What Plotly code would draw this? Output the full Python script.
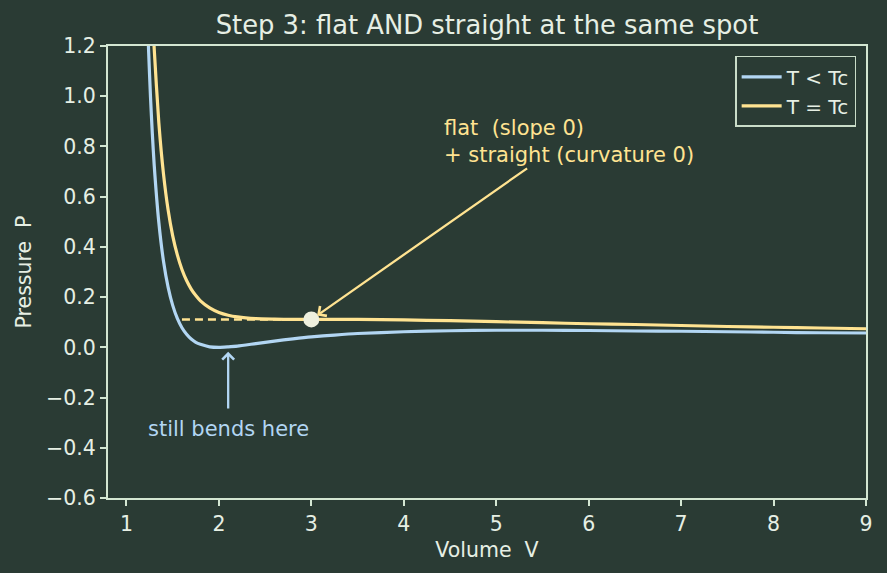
import plotly.graph_objects as go

# ---- data ----
volume = [1.20, 1.22, 1.24, 1.26, 1.28, 1.30, 1.35, 1.40, 1.45, 1.50, 1.55, 1.60, 1.65, 1.70, 1.75,
          1.80, 1.90, 2.00, 2.10, 2.20, 2.40, 2.60, 2.80, 3.00, 3.25, 3.50, 4.00, 4.50, 5.00, 5.50,
          6.00, 6.50, 7.00, 7.50, 8.00, 8.50, 9.00]
p_below = [1.667, 1.394, 1.174, 0.995, 0.848, 0.725, 0.497, 0.344, 0.240, 0.167, 0.115, 0.078, 0.052,
           0.033, 0.020, 0.012, 0.002, 0.000, 0.002, 0.005, 0.015, 0.025, 0.034, 0.042, 0.049, 0.055,
           0.062, 0.066, 0.068, 0.068, 0.067, 0.065, 0.064, 0.062, 0.060, 0.058, 0.057]
p_crit = [2.361, 2.025, 1.753, 1.529, 1.344, 1.188, 0.894, 0.692, 0.548, 0.444, 0.368, 0.310, 0.266,
          0.232, 0.206, 0.185, 0.157, 0.139, 0.128, 0.121, 0.114, 0.112, 0.111, 0.111, 0.111, 0.111,
          0.109, 0.106, 0.102, 0.098, 0.094, 0.091, 0.087, 0.083, 0.080, 0.077, 0.074]
series_names = ["T < Tc", "T = Tc"]
critical_v = [3.0]
critical_p = [0.111]
guide_v = [1.6, 3.0]
guide_p = [0.111, 0.111]
x_ticks = [1, 2, 3, 4, 5, 6, 7, 8, 9]
y_ticks = [-0.6, -0.4, -0.2, 0.0, 0.2, 0.4, 0.6, 0.8, 1.0, 1.2]

# ---- style ----
BG = "#2a3b34"
FG = "#e6efe4"
SPINE = "#d3e6d2"
BLUE = "#b2d6f3"
YELLOW = "#ffe391"
FONT = "DejaVu Sans"

fig = go.Figure()
fig.add_trace(go.Scatter(x=volume, y=p_below, mode="lines", name=series_names[0],
                         line=dict(color=BLUE, width=3.2, shape="spline", smoothing=0.6)))
fig.add_trace(go.Scatter(x=volume, y=p_crit, mode="lines", name=series_names[1],
                         line=dict(color=YELLOW, width=3.2, shape="spline", smoothing=0.6)))
fig.add_trace(go.Scatter(x=guide_v, y=guide_p, mode="lines", showlegend=False,
                         line=dict(color=YELLOW, width=2.5, dash="8px,5px")))
fig.add_trace(go.Scatter(x=critical_v, y=critical_p, mode="markers", showlegend=False,
                         marker=dict(color="#eef0de", size=16, line=dict(width=0))))

# arrows
fig.add_annotation(x=3.0, y=0.111, ax=5.35, ay=0.717, xref="x", yref="y", axref="x", ayref="y",
                   text="", showarrow=True, arrowhead=4, arrowsize=1.0, arrowwidth=2.3,
                   arrowcolor=YELLOW, standoff=7)
fig.add_annotation(x=4.41, y=0.82, xref="x", yref="y", xanchor="left", yanchor="middle",
                   align="left", showarrow=False,
                   text="flat \u00a0(slope 0)<br>+ straight (curvature 0)",
                   font=dict(family=FONT, size=21, color=YELLOW))
fig.add_annotation(x=2.1, y=-0.01, ax=2.1, ay=-0.25, xref="x", yref="y", axref="x", ayref="y",
                   text="", showarrow=True, arrowhead=4, arrowsize=1.0, arrowwidth=2.3,
                   arrowcolor=BLUE, standoff=2)
fig.add_annotation(x=2.1, y=-0.327, xref="x", yref="y", xanchor="center", yanchor="middle",
                   showarrow=False, text="still bends here",
                   font=dict(family=FONT, size=21, color=BLUE))

axis_common = dict(showline=True, linecolor=SPINE, linewidth=2, mirror=True,
                   ticks="outside", ticklen=6, tickwidth=2, tickcolor=SPINE,
                   showgrid=False, zeroline=False,
                   tickfont=dict(family=FONT, size=20.5, color=FG))

fig.update_layout(
    width=887, height=573,
    paper_bgcolor=BG, plot_bgcolor=BG,
    margin=dict(l=108, r=21, t=46, b=75),
    font=dict(family=FONT, color=FG),
    title=dict(text="Step 3: flat AND straight at the same spot", x=0.549, xanchor="center",
               y=0.956, yanchor="middle", font=dict(family=FONT, size=25.8, color=FG)),
    xaxis=dict(range=[0.8, 9], tickvals=x_ticks,
               title=dict(text="Volume \u00a0V", font=dict(family=FONT, size=20.5, color=FG), standoff=8),
               **axis_common),
    yaxis=dict(range=[-0.6, 1.2], tickvals=y_ticks, tickformat=".1f",
               title=dict(text="Pressure \u00a0P", font=dict(family=FONT, size=20.5, color=FG), standoff=9),
               **axis_common),
    legend=dict(x=0.987, y=0.978, xanchor="right", yanchor="top",
                bgcolor=BG, bordercolor="#c9dcc8", borderwidth=1.5,
                font=dict(family=FONT, size=20, color=FG), itemwidth=40),
    showlegend=True,
)

fig.write_html("out.html")
